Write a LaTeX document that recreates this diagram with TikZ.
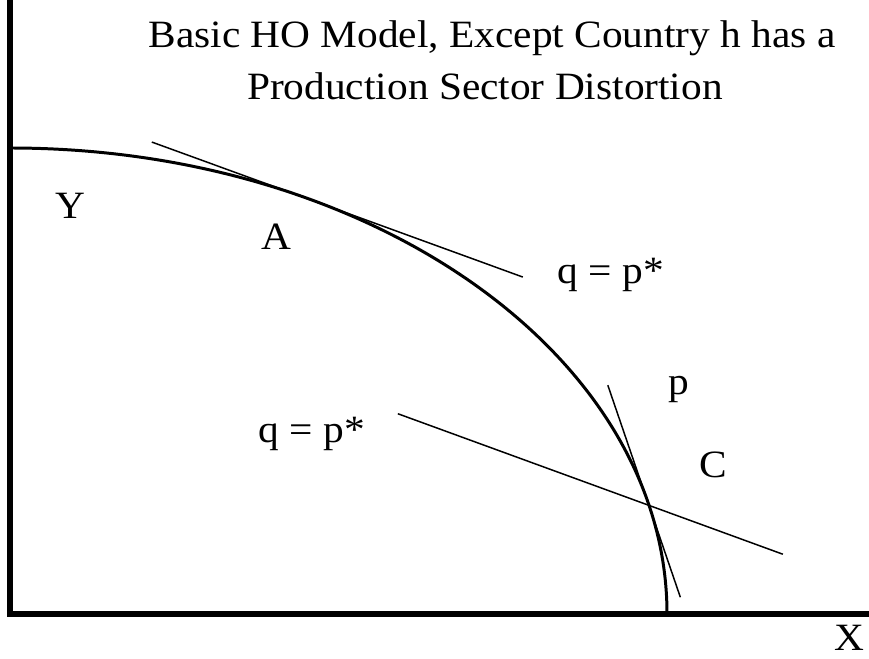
\documentclass[tikz,border=0pt]{standalone}
\usepackage{fontspec}
\setmainfont[FakeStretch=1.07]{Liberation Serif}
\usepackage{tikz}
\usetikzlibrary{calc}
\tikzset{
  axisline/.style={line width=3.4pt,line join=miter},
  ppfline/.style={line width=1.7pt},
  priceline/.style={line width=0.85pt},
  lbl/.style={font=\fontsize{22}{29}\selectfont,inner sep=0pt,anchor=base}
}

\begin{document}
\begin{tikzpicture}
  \useasboundingbox (-0.2,-0.88) rectangle (17.18,12.28);
  % axes
  \draw[axisline] (0,12.4) -- (0,0) -- (17.3,0);
  % production possibility frontier
  \draw[ppfline] (0,9.32) arc[start angle=90,end angle=0,x radius=13.14,y radius=9.32];
  \coordinate (A) at (62.8:13.14 and 9.32);
  \coordinate (C) at (13.5:13.14 and 9.32);
  % world price at A
  \coordinate (a1) at ($(A)+(-3.17,1.15)$);
  \coordinate (a2) at ($(A)+(4.25,-1.55)$);
  \draw[priceline] (a1) -- (a2);
  % world price through C
  \coordinate (c1) at ($(C)+(-5.02,1.83)$);
  \coordinate (c2) at ($(C)+(2.68,-0.98)$);
  \draw[priceline] (c1) -- (c2);
  % domestic price at C
  \coordinate (d1) at ($(C)+(-0.82,2.40)$);
  \coordinate (d2) at ($(C)+(0.63,-1.84)$);
  \draw[priceline] (d1) -- (d2);
  % labels
  \node[lbl] (title1) at (9.64,11.32) {Basic HO Model, Except Country h has a};
  \node[lbl] (title2) at (9.5,10.28) {Production Sector Distortion};
  \node[lbl] (ylab) at (1.2,7.9) {Y};
  \node[lbl] (alab) at (5.32,7.28) {A};
  \node[lbl] (qtop) at (12.02,6.6) {q = p*};
  \node[lbl] (plab) at (13.38,4.38) {p};
  \node[lbl] (qlow) at (6.04,3.44) {q = p*};
  \node[lbl] (clab) at (14.06,2.74) {C};
  \node[lbl] (xlab) at (16.78,-0.72) {X};
\end{tikzpicture}
\end{document}
